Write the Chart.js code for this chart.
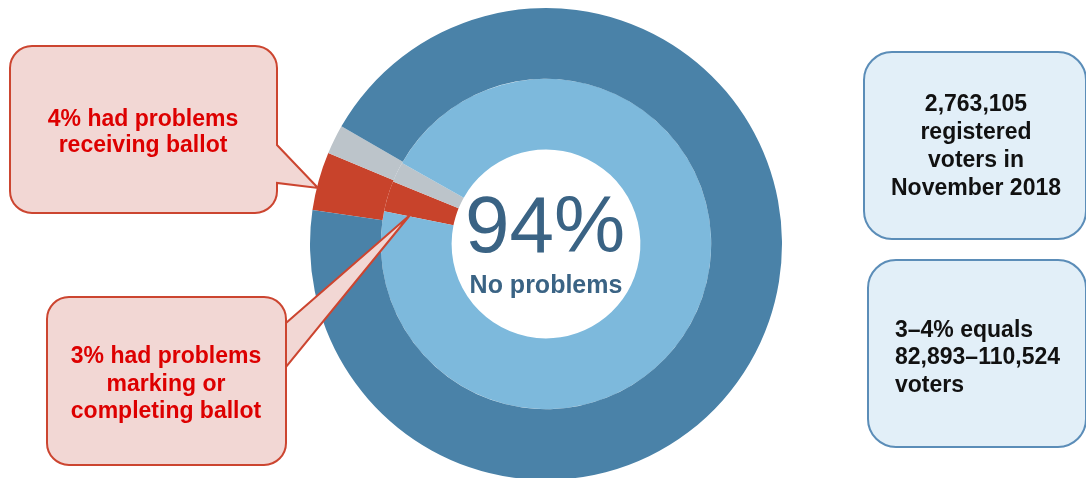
<!DOCTYPE html>
<html lang="en">
  <head>
    <meta charset="UTF-8" />
    <title>Ballot problems</title>
    <style>
      html, body { margin: 0; padding: 0; background: #fff; overflow: hidden; }
      #wrap { position: relative; width: 1086px; height: 478px; overflow: hidden; }
      #ring { position: absolute; left: 0; top: 0; }
    </style>
  </head>
  <body>
    <div id="wrap">
      <canvas id="ring" width="1086" height="490"></canvas>
    </div>

    <script src="https://cdn.jsdelivr.net/npm/chart.js"></script>
    <script>
      // slice data: outer ring = receiving ballot, inner ring = marking / completing
      const sliceLabels = ['Had problems', 'Other', 'No problems'];
      const outerValues = [4, 2, 94];
      const innerValues = [3, 2, 95];

      const centerValue = '94%';
      const centerLabel = 'No problems';

      const calloutReceiving = ['4% had problems', 'receiving ballot'];
      const calloutMarking = ['3% had problems', 'marking or', 'completing ballot'];
      const noteVoters = ['2,763,105', 'registered', 'voters in', 'November 2018'];
      const noteRange = ['3\u20134% equals', '82,893\u2013110,524', 'voters'];

      const FONT = '"Liberation Sans", Arial, sans-serif';

      // rounded box with an optional pointer on its right side
      function callout(ctx, x, y, w, h, r, ptr, fill, stroke) {
        ctx.beginPath();
        ctx.moveTo(x + r, y);
        ctx.lineTo(x + w - r, y);
        ctx.arcTo(x + w, y, x + w, y + r, r);
        if (ptr) {
          ctx.lineTo(x + w, ptr.y1);
          ctx.lineTo(ptr.tx, ptr.ty);
          ctx.lineTo(x + w, ptr.y2);
        }
        ctx.lineTo(x + w, y + h - r);
        ctx.arcTo(x + w, y + h, x + w - r, y + h, r);
        ctx.lineTo(x + r, y + h);
        ctx.arcTo(x, y + h, x, y + h - r, r);
        ctx.lineTo(x, y + r);
        ctx.arcTo(x, y, x + r, y, r);
        ctx.closePath();
        ctx.fillStyle = fill;
        ctx.fill();
        ctx.lineWidth = 2;
        ctx.strokeStyle = stroke;
        ctx.stroke();
      }

      function lines(ctx, arr, x, baselines, color, align) {
        ctx.fillStyle = color;
        ctx.textAlign = align;
        ctx.textBaseline = 'alphabetic';
        ctx.font = 'bold 23px ' + FONT;
        arr.forEach((t, i) => ctx.fillText(t, x, baselines[i]));
      }

      const overlay = {
        id: 'overlay',
        afterDraw(chart) {
          const ctx = chart.ctx;
          ctx.save();

          // center text
          ctx.fillStyle = '#3a6384';
          ctx.textAlign = 'center';
          ctx.textBaseline = 'alphabetic';
          ctx.font = '80px ' + FONT;
          ctx.fillText(centerValue, 545, 252);
          ctx.font = 'bold 25px ' + FONT;
          ctx.fillText(centerLabel, 546, 293);

          // red callouts
          callout(ctx, 10, 46, 267, 167, 22, { y1: 145, tx: 318, ty: 188, y2: 183 }, '#f2d7d4', '#cc4530');
          lines(ctx, calloutReceiving, 143, [126, 152], '#dd0000', 'center');

          callout(ctx, 47, 297, 239, 168, 22, { y1: 367, tx: 410, ty: 215, y2: 323 }, '#f2d7d4', '#cc4530');
          lines(ctx, calloutMarking, 166, [363, 391, 418], '#dd0000', 'center');

          // blue notes
          callout(ctx, 864, 52, 222, 187, 28, null, '#e2eff8', '#5b8db8');
          lines(ctx, noteVoters, 976, [111, 139, 167, 195], '#111111', 'center');

          callout(ctx, 868, 260, 218, 187, 28, null, '#e2eff8', '#5b8db8');
          lines(ctx, noteRange, 895, [337, 364, 392], '#111111', 'left');

          ctx.restore();
        }
      };

      new Chart(document.getElementById('ring').getContext('2d'), {
        type: 'doughnut',
        data: {
          labels: sliceLabels,
          datasets: [
            {
              data: outerValues,
              backgroundColor: ['#c8432b', '#bcc4ca', '#4a82a8'],
              rotation: 278.3
            },
            {
              data: innerValues,
              backgroundColor: ['#c8432b', '#bcc4ca', '#7db9dc'],
              rotation: 281.4
            }
          ]
        },
        options: {
          responsive: false,
          animation: false,
          events: [],
          cutout: '40%',
          borderWidth: 0,
          hoverOffset: 0,
          layout: { padding: { left: 310, right: 304, top: 8, bottom: 10 } },
          plugins: {
            legend: { display: false },
            tooltip: { enabled: false }
          }
        },
        plugins: [overlay]
      });
    </script>
  </body>
</html>
